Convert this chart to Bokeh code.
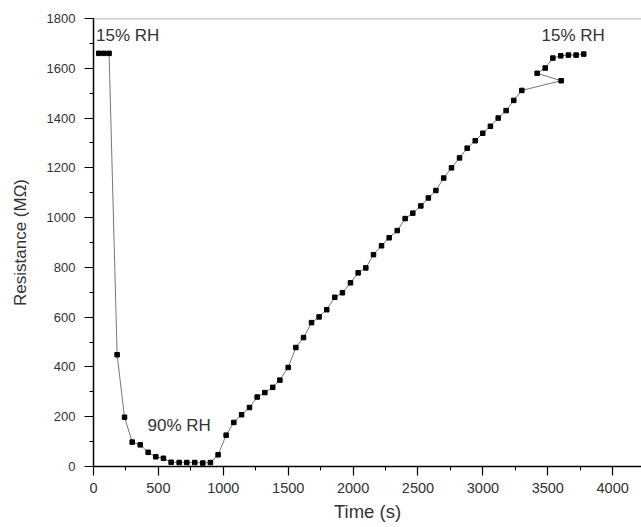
from bokeh.plotting import figure
from bokeh.models import Span, Label, Range1d, SingleIntervalTicker
from bokeh.embed import file_html
from bokeh.resources import INLINE

time_s = [40, 80, 120, 182, 239, 298, 360, 421, 480, 539, 598, 660, 719, 780, 842, 901,
          960, 1022, 1081, 1141, 1202, 1261, 1320, 1381, 1436, 1500, 1559, 1618, 1680,
          1738, 1797, 1859, 1918, 1980, 2039, 2098, 2157, 2219, 2278, 2340, 2401, 2460,
          2522, 2580, 2638, 2698, 2758, 2820, 2879, 2941, 2999, 3058, 3118, 3179, 3238,
          3300, 3603, 3418, 3480, 3539, 3600, 3659, 3718, 3777]
resistance = [1660, 1660, 1660, 449, 198, 98, 87, 57, 39, 33, 17, 16, 16, 16, 14, 16,
              47, 126, 177, 208, 237, 279, 297, 318, 347, 398, 478, 518, 578,
              601, 630, 680, 698, 738, 778, 798, 851, 887, 919, 948, 996, 1018,
              1047, 1079, 1109, 1159, 1200, 1240, 1279, 1309, 1339, 1367, 1400, 1430, 1471,
              1511, 1550, 1580, 1601, 1641, 1650, 1653, 1653, 1657]

annotations = [("15% RH", 20, 1732), ("90% RH", 416, 165), ("15% RH", 3452, 1732)]

FONT = "Liberation Sans"

p = figure(width=641, height=527, output_backend="svg", toolbar_location=None,
           x_range=Range1d(0, 4222), y_range=Range1d(0, 1800),
           min_border_left=93, min_border_top=18, min_border_bottom=61, min_border_right=0)
p.outline_line_color = None
p.xgrid.visible = False
p.ygrid.visible = False
p.background_fill_color = "white"
p.border_fill_color = "white"

p.line(time_s, resistance, line_color="#777777", line_width=1)
p.scatter(time_s, resistance, marker="square", size=4.5, fill_color="black", line_color="black")

p.add_layout(Span(location=1800, dimension="width", line_color="#999999", line_width=1.5))

for txt, x, y in annotations:
    p.add_layout(Label(x=x, y=y, text=txt, text_font=FONT, text_font_size="17px",
                       text_color="#333333", text_align="left", text_baseline="middle"))

p.xaxis.ticker = SingleIntervalTicker(interval=500, num_minor_ticks=2)
p.yaxis.ticker = SingleIntervalTicker(interval=200, num_minor_ticks=2)

for ax in (p.xaxis[0], p.yaxis[0]):
    ax.axis_line_color = "black"
    ax.axis_line_width = 1.5
    ax.major_tick_line_color = "black"
    ax.minor_tick_line_color = "black"
    ax.major_tick_line_width = 1.2
    ax.major_tick_out = 9
    ax.major_tick_in = 0
    ax.minor_tick_out = 4
    ax.minor_tick_in = 0
    ax.major_label_text_font = FONT
    ax.major_label_text_color = "#333333"
    ax.axis_label_text_font = FONT
    ax.axis_label_text_font_style = "normal"
    ax.axis_label_text_color = "#333333"

p.xaxis.major_label_text_font_size = "14.5px"
p.yaxis.major_label_text_font_size = "13px"
p.xaxis.axis_label_text_font_size = "18.5px"
p.yaxis.axis_label_text_font_size = "17px"
p.xaxis.axis_label = "Time (s)"
p.yaxis.axis_label = "Resistance (MΩ)"
p.xaxis.major_label_standoff = 7
p.xaxis.axis_label_standoff = 5
p.yaxis.major_label_standoff = 9
p.yaxis.axis_label_standoff = 14

open("out.html", "w").write(file_html(p, INLINE))
